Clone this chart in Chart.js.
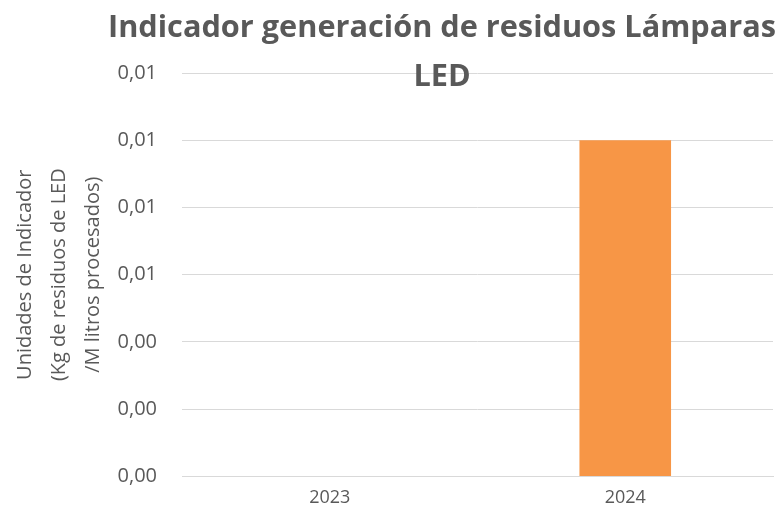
<!DOCTYPE html>
<html>
<head>
<meta charset="utf-8">
<script src="https://cdn.jsdelivr.net/npm/chart.js@4"></script>
<style>
  html, body { margin: 0; padding: 0; background: #fff; }
  #wrap { width: 780px; height: 518px; }
</style>
</head>
<body>
<div id="wrap"><canvas id="chart" width="780" height="518"></canvas></div>
<script>
// Chart data
const years = ['2023', '2024'];
const ledValues = [0, 0.01];
const titleLines = ['Indicador generación de residuos Lámparas', 'LED'];
const yTitleLines = ['Unidades de Indicador', '(Kg de residuos de LED', '/M litros procesados)'];

const grey = '#595959';
const gridColor = '#d9d9d9';
const font = 'Open Sans';

// Excel style title that sits over the plot area
const overlayTitle = {
  id: 'overlayTitle',
  afterDraw(chart) {
    const ctx = chart.ctx;
    ctx.save();
    ctx.fillStyle = grey;
    ctx.textAlign = 'center';
    ctx.textBaseline = 'middle';
    ctx.font = 'bold 31px "Open Sans"';
    // squeeze the first line to the width Excel gave it (Calibri is narrow)
    const w = ctx.measureText(titleLines[0]).width;
    const sx = 668 / w;
    ctx.translate(442, 0);
    ctx.scale(sx, 1);
    ctx.fillText(titleLines[0], 0, 28);
    ctx.fillText(titleLines[1], 0, 77);
    ctx.restore();
  }
};

const ctx = document.getElementById('chart').getContext('2d');
new Chart(ctx, {
  type: 'bar',
  data: {
    labels: years,
    datasets: [{
      label: 'Indicador',
      data: ledValues,
      backgroundColor: '#F79646',
      categoryPercentage: 1,
      barPercentage: 0.31
    }]
  },
  options: {
    responsive: false,
    animation: false,
    layout: { padding: { top: 73, right: 7, bottom: 6, left: 8 } },
    plugins: {
      legend: { display: false },
      title: { display: false },
      tooltip: { enabled: false }
    },
    scales: {
      x: {
        grid: { display: false },
        border: { display: true, color: gridColor, width: 1 },
        ticks: { color: grey, font: { family: font, size: 18 }, padding: 3 }
      },
      y: {
        min: 0,
        max: 0.012,
        afterFit: s => { s.width = 174; },
        grid: { color: gridColor, lineWidth: 1, drawTicks: false },
        border: { display: false },
        ticks: {
          stepSize: 0.002,
          color: grey,
          font: { family: font, size: 20 },
          padding: 25,
          callback: v => v.toFixed(2).replace('.', ',')
        },
        title: {
          display: true,
          text: yTitleLines,
          color: grey,
          font: { family: font, size: 20, lineHeight: 1.7 },
          padding: { top: 0, bottom: 0 }
        }
      }
    }
  },
  plugins: [overlayTitle]
});
</script>
</body>
</html>
